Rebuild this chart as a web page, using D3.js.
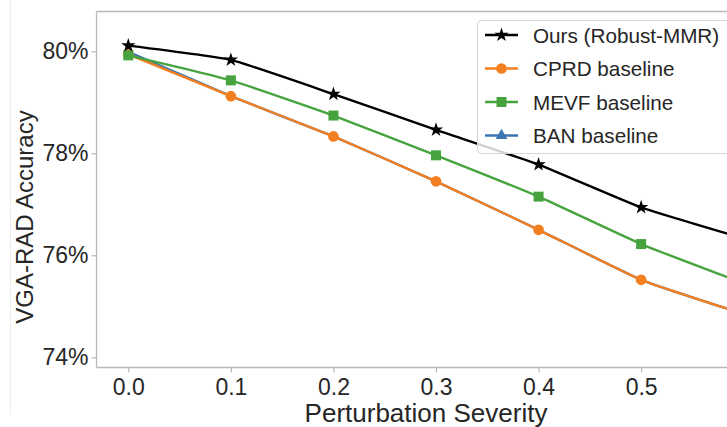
<!DOCTYPE html>
<html>
<head>
<meta charset="utf-8">
<script src="https://cdn.jsdelivr.net/npm/d3@7"></script>
<style>
  html, body { margin: 0; padding: 0; background: #fff; }
  svg { display: block; font-family: "Liberation Sans", Arial, Helvetica, sans-serif; }
</style>
</head>
<body>
<svg id="chart" width="727" height="427"></svg>
<script>
// ---- data ----
const severity = [0.0, 0.1, 0.2, 0.3, 0.4, 0.5, 0.6];
const oursValues = [80.11, 79.83, 79.16, 78.46, 77.78, 76.94, 76.33];
const cprdValues = [79.94, 79.12, 78.33, 77.45, 76.50, 75.52, 74.85];
const mevfValues = [79.92, 79.43, 78.74, 77.96, 77.15, 76.22, 75.45];
const banValues  = [79.99, 79.12, 78.33, 77.45, 76.50, 75.52, 74.85];
const xTicks = [0.0, 0.1, 0.2, 0.3, 0.4, 0.5];
const yTicks = [74, 76, 78, 80];
const seriesNames = ["Ours (Robust-MMR)", "CPRD baseline", "MEVF baseline", "BAN baseline"];

const series = [
  { name: seriesNames[3], values: banValues,  color: "#3b76b0", marker: "triangle" },
  { name: seriesNames[1], values: cprdValues, color: "#f47f20", marker: "circle" },
  { name: seriesNames[2], values: mevfValues, color: "#46a33d", marker: "square" },
  { name: seriesNames[0], values: oursValues, color: "#000000", marker: "star" }
];

const svg = d3.select("#chart");
const W = 727, H = 427;
const plot = { left: 96.5, top: 11.5, bottom: 367.5 };

const x = d3.scaleLinear().domain([-0.031, 0.631]).range([plot.left, plot.left + 679]);
const y = d3.scaleLinear().domain([73.8, 80.78]).range([plot.bottom, plot.top]);

svg.append("rect").attr("width", W).attr("height", H).attr("fill", "#fff");
// faint figure edge
svg.append("line").attr("x1", 10.5).attr("x2", 10.5).attr("y1", 0).attr("y2", 415)
  .attr("stroke", "#ededed").attr("stroke-width", 1);

const spine = "#b8b8b8";
svg.append("line").attr("x1", plot.left).attr("x2", W).attr("y1", plot.top).attr("y2", plot.top)
  .attr("stroke", spine).attr("stroke-width", 1.3);
svg.append("line").attr("x1", plot.left).attr("x2", W).attr("y1", plot.bottom).attr("y2", plot.bottom)
  .attr("stroke", spine).attr("stroke-width", 1.3);
svg.append("line").attr("x1", plot.left).attr("x2", plot.left).attr("y1", plot.top).attr("y2", plot.bottom)
  .attr("stroke", spine).attr("stroke-width", 1.3);

// axes
const xAxis = d3.axisBottom(x).tickValues(xTicks).tickFormat(d3.format(".1f")).tickSize(5).tickPadding(6);
const gx = svg.append("g").attr("transform", `translate(0,${plot.bottom})`).call(xAxis);
gx.select(".domain").remove();
gx.selectAll(".tick line").attr("stroke", spine).attr("stroke-width", 1.2);
gx.selectAll(".tick text").attr("font-size", 23).attr("fill", "#262626")
  .attr("font-family", "Liberation Sans, Arial, sans-serif");

const yAxis = d3.axisLeft(y).tickValues(yTicks).tickFormat(d => d + "%").tickSize(5).tickPadding(3);
const gy = svg.append("g").attr("transform", `translate(${plot.left},0)`).call(yAxis);
gy.select(".domain").remove();
gy.selectAll(".tick line").attr("stroke", spine).attr("stroke-width", 1.2);
gy.selectAll(".tick text").attr("font-size", 23).attr("fill", "#262626")
  .attr("font-family", "Liberation Sans, Arial, sans-serif");

// axis titles
svg.append("text").attr("x", 426).attr("y", 422).attr("text-anchor", "middle")
  .attr("font-size", 26).attr("fill", "#262626").text("Perturbation Severity");
svg.append("text").attr("transform", "translate(33,217) rotate(-90)").attr("text-anchor", "middle")
  .attr("font-size", 24).attr("fill", "#262626").text("VGA-RAD Accuracy");

// lines
const line = d3.line().x((d, i) => x(severity[i])).y(d => y(d)).curve(d3.curveCardinal.tension(0.6));

function markerPath(kind, legend) {
  if (kind === "star") return d3.symbol(d3.symbolStar, 64)();
  if (kind === "circle") return d3.symbol(d3.symbolCircle, 90)();
  if (kind === "square") return d3.symbol(d3.symbolSquare, 100)();
  return d3.symbol(d3.symbolTriangle, legend ? 60 : 34)();
}

series.forEach(s => {
  const g = svg.append("g");
  g.append("path").datum(s.values).attr("d", line)
    .attr("fill", "none").attr("stroke", s.color).attr("stroke-width", 2.4);
  g.selectAll("path.m").data(s.values).join("path").attr("class", "m")
    .attr("d", markerPath(s.marker, false))
    .attr("transform", (d, i) => `translate(${x(severity[i])},${y(d)})`)
    .attr("fill", s.color);
});

// legend
const lg = svg.append("g").attr("transform", "translate(477,20)");
lg.append("rect").attr("x", 0.5).attr("y", 0.5).attr("width", 262).attr("height", 133).attr("rx", 4)
  .attr("fill", "#fff").attr("fill-opacity", 0.82).attr("stroke", "#d6d6d6").attr("stroke-width", 1);
const legendOrder = [series[3], series[1], series[2], series[0]];
legendOrder.forEach((s, i) => {
  const cy = 15 + i * 33.5;
  lg.append("line").attr("x1", 8).attr("x2", 41).attr("y1", cy).attr("y2", cy)
    .attr("stroke", s.color).attr("stroke-width", 2.4);
  lg.append("path").attr("d", markerPath(s.marker, true)).attr("transform", `translate(24.5,${cy})`).attr("fill", s.color);
  lg.append("text").attr("x", 56).attr("y", cy + 7.5).attr("font-size", 20.7).attr("fill", "#262626").text(s.name);
});
</script>
</body>
</html>
